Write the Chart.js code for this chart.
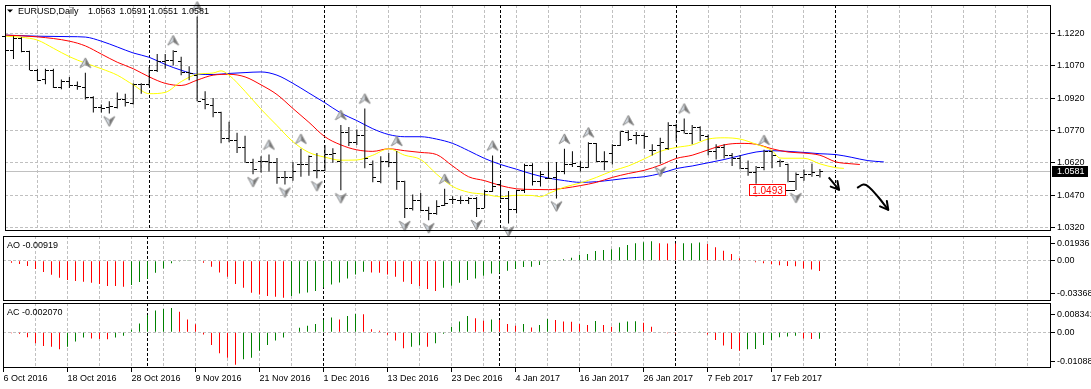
<!DOCTYPE html>
<html lang="en">
<head>
<meta charset="UTF-8">
<title>EURUSD,Daily</title>
<script src="https://cdn.jsdelivr.net/npm/chart.js@4.4.1/dist/chart.umd.min.js"></script>
<style>
  * { margin: 0; padding: 0; box-sizing: border-box; }
  body { width: 1091px; height: 389px; background: #fff; overflow: hidden; position: relative; }
  .pane { position: absolute; left: 0; width: 1091px; }
  #mainPane { top: 0; height: 236px; }
  #aoPane { top: 236px; height: 65px; }
  #acPane { top: 303px; height: 86px; }
</style>
</head>
<body>
<div class="pane" id="mainPane"><canvas id="mainChart"></canvas></div>
<div class="pane" id="aoPane"><canvas id="aoChart"></canvas></div>
<div class="pane" id="acPane"><canvas id="acChart"></canvas></div>

<script>
// ---- data (one daily bar per index, 0 = 6 Oct 2016) ----
const dateLabels = ['6 Oct 2016', '18 Oct 2016', '28 Oct 2016', '9 Nov 2016', '21 Nov 2016', '1 Dec 2016',
  '13 Dec 2016', '23 Dec 2016', '4 Jan 2017', '16 Jan 2017', '26 Jan 2017', '7 Feb 2017', '17 Feb 2017'];
const monthStarts = [18, 40, 62, 84, 104];

const opens = [1.1208, 1.1146, 1.1200, 1.1137, 1.1053, 1.1007, 1.1053, 1.0970, 1.1000, 1.0982,
  1.0974, 1.0926, 1.0879, 1.0881, 1.0881, 1.0914, 1.0899, 1.0987, 1.0985, 1.1053,
  1.1095, 1.1098, 1.1095, 1.1042, 1.1030, 1.0914, 1.0887, 1.0854, 1.0733, 1.0725,
  1.0691, 1.0624, 1.0627, 1.0627, 1.0624, 1.0552, 1.0552, 1.0612, 1.0612, 1.0585,
  1.0585, 1.0661, 1.0627, 1.0763, 1.0718, 1.0751, 1.0615, 1.0533, 1.0627, 1.0624,
  1.0534, 1.0409, 1.0446, 1.0401, 1.0386, 1.0424, 1.0451, 1.0449, 1.0449, 1.0454,
  1.0409, 1.0489, 1.0522, 1.0454, 1.0404, 1.0492, 1.0609, 1.0534, 1.0549, 1.0552,
  1.0582, 1.0612, 1.0606, 1.0600, 1.0710, 1.0627, 1.0665, 1.0703, 1.0763, 1.0748,
  1.0748, 1.0680, 1.0703, 1.0688, 1.0796, 1.0771, 1.0760, 1.0786, 1.0745, 1.0676,
  1.0695, 1.0658, 1.0642, 1.0594, 1.0575, 1.0600, 1.0673, 1.0630, 1.0612, 1.0534,
  1.0555, 1.0567, 1.0563];
const highs = [1.1213, 1.1208, 1.1203, 1.1140, 1.1057, 1.1057, 1.1057, 1.1007, 1.1019, 1.0997,
  1.1038, 1.0929, 1.0891, 1.0906, 1.0947, 1.0941, 1.0989, 1.0989, 1.1065, 1.1125,
  1.1125, 1.1143, 1.1113, 1.1068, 1.1300, 1.0952, 1.0921, 1.0857, 1.0811, 1.0759,
  1.0745, 1.0639, 1.0650, 1.0658, 1.0642, 1.0582, 1.0624, 1.0685, 1.0654, 1.0665,
  1.0703, 1.0688, 1.0796, 1.0786, 1.0775, 1.0872, 1.0630, 1.0650, 1.0665, 1.0675,
  1.0537, 1.0473, 1.0479, 1.0416, 1.0446, 1.0499, 1.0465, 1.0465, 1.0461, 1.0461,
  1.0495, 1.0654, 1.0539, 1.0489, 1.0495, 1.0615, 1.0618, 1.0582, 1.0624, 1.0624,
  1.0685, 1.0673, 1.0627, 1.0715, 1.0712, 1.0673, 1.0706, 1.0766, 1.0771, 1.0763,
  1.0760, 1.0706, 1.0736, 1.0808, 1.0801, 1.0826, 1.0796, 1.0790, 1.0751, 1.0706,
  1.0706, 1.0665, 1.0655, 1.0630, 1.0605, 1.0680, 1.0676, 1.0635, 1.0615, 1.0575,
  1.0589, 1.0617, 1.0591];
const lows = [1.1143, 1.1102, 1.1133, 1.1050, 1.1000, 1.0985, 1.0967, 1.0962, 1.0967, 1.0959,
  1.0914, 1.0854, 1.0854, 1.0849, 1.0872, 1.0881, 1.0891, 1.0941, 1.0976, 1.1042,
  1.1057, 1.1072, 1.1027, 1.1003, 1.0906, 1.0869, 1.0831, 1.0711, 1.0715, 1.0665,
  1.0620, 1.0567, 1.0575, 1.0579, 1.0522, 1.0519, 1.0537, 1.0555, 1.0560, 1.0548,
  1.0582, 1.0620, 1.0492, 1.0698, 1.0703, 1.0594, 1.0529, 1.0525, 1.0600, 1.0495,
  1.0363, 1.0398, 1.0396, 1.0353, 1.0379, 1.0419, 1.0428, 1.0428, 1.0428, 1.0368,
  1.0409, 1.0484, 1.0449, 1.0338, 1.0386, 1.0480, 1.0514, 1.0510, 1.0545, 1.0454,
  1.0567, 1.0600, 1.0579, 1.0597, 1.0624, 1.0585, 1.0612, 1.0698, 1.0721, 1.0706,
  1.0685, 1.0654, 1.0615, 1.0680, 1.0721, 1.0756, 1.0706, 1.0721, 1.0655, 1.0635,
  1.0640, 1.0605, 1.0590, 1.0560, 1.0522, 1.0585, 1.0594, 1.0600, 1.0529, 1.0493,
  1.0537, 1.0555, 1.0551];
const closes = [1.1146, 1.1200, 1.1137, 1.1053, 1.1004, 1.1053, 1.0970, 1.1000, 1.0982, 1.0977,
  1.0926, 1.0881, 1.0876, 1.0884, 1.0914, 1.0902, 1.0987, 1.0985, 1.1052, 1.1095,
  1.1098, 1.1137, 1.1042, 1.1038, 1.0909, 1.0891, 1.0854, 1.0736, 1.0725, 1.0691,
  1.0624, 1.0590, 1.0627, 1.0624, 1.0552, 1.0552, 1.0582, 1.0612, 1.0650, 1.0585,
  1.0661, 1.0666, 1.0763, 1.0718, 1.0748, 1.0642, 1.0555, 1.0627, 1.0624, 1.0534,
  1.0409, 1.0449, 1.0401, 1.0386, 1.0419, 1.0431, 1.0451, 1.0449, 1.0454, 1.0409,
  1.0489, 1.0514, 1.0454, 1.0404, 1.0492, 1.0609, 1.0534, 1.0570, 1.0549, 1.0582,
  1.0612, 1.0618, 1.0600, 1.0713, 1.0627, 1.0627, 1.0703, 1.0766, 1.0730, 1.0748,
  1.0745, 1.0680, 1.0718, 1.0796, 1.0766, 1.0760, 1.0786, 1.0748, 1.0676, 1.0695,
  1.0658, 1.0642, 1.0594, 1.0575, 1.0600, 1.0673, 1.0655, 1.0627, 1.0534, 1.0570,
  1.0567, 1.0579, 1.0581];

// alligator lines (they run past the last bar because of their shift)
const jawX = [0, 4, 8, 10, 12, 14, 16, 18, 20, 22, 24, 26, 28, 30, 32, 34, 36, 38, 40, 42, 44, 46, 48, 50, 52, 54,
  56, 58, 60, 62, 64, 66, 68, 70, 72, 74, 76, 78, 80, 82, 84, 86, 88, 90, 92, 94, 96, 98, 100, 102, 104, 106, 108, 110];
const jawY = [1.1213, 1.1208, 1.1206, 1.1204, 1.1185, 1.1158, 1.1130, 1.1110, 1.1077, 1.1050, 1.1031, 1.1030, 1.1035,
  1.1039, 1.1042, 1.1027, 1.0989, 1.0944, 1.0899, 1.0851, 1.0816, 1.0778, 1.0751, 1.0741, 1.0741, 1.0730, 1.0710,
  1.0676, 1.0640, 1.0612, 1.0590, 1.0567, 1.0549, 1.0537, 1.0529, 1.0532, 1.0540, 1.0549, 1.0555, 1.0570, 1.0593,
  1.0605, 1.0620, 1.0635, 1.0653, 1.0670, 1.0676, 1.0673, 1.0668, 1.0662, 1.0658, 1.0645, 1.0630, 1.0624];
const teethX = [0, 4, 8, 10, 12, 14, 16, 18, 20, 22, 24, 26, 28, 30, 32, 34, 36, 38, 40, 42, 44, 46, 48, 50, 52, 54,
  56, 58, 60, 62, 64, 66, 68, 70, 72, 74, 76, 78, 80, 82, 84, 86, 88, 90, 92, 94, 96, 98, 100, 102, 104, 106, 107];
const teethY = [1.1213, 1.1205, 1.1185, 1.1163, 1.1125, 1.1087, 1.1057, 1.1019, 1.0989, 1.0979, 1.1004, 1.1027, 1.1031,
  1.1019, 1.0982, 1.0937, 1.0872, 1.0808, 1.0741, 1.0703, 1.0680, 1.0673, 1.0685, 1.0676, 1.0668, 1.0658, 1.0605,
  1.0555, 1.0537, 1.0514, 1.0499, 1.0496, 1.0495, 1.0502, 1.0514, 1.0529, 1.0552, 1.0570, 1.0585, 1.0609, 1.0640,
  1.0655, 1.0680, 1.0703, 1.0710, 1.0706, 1.0685, 1.0670, 1.0665, 1.0655, 1.0624, 1.0615, 1.0612];
const lipsX = [0, 2, 4, 6, 8, 10, 12, 14, 16, 18, 20, 22, 24, 26, 27, 28, 30, 32, 34, 36, 38, 40, 42, 44, 46, 48, 50,
  52, 54, 56, 58, 60, 62, 64, 66, 67, 68, 70, 72, 74, 76, 78, 80, 82, 84, 86, 88, 90, 92, 94, 96, 97, 98, 100, 102, 104, 105];
const lipsY = [1.1208, 1.1203, 1.1190, 1.1152, 1.1113, 1.1083, 1.1057, 1.1027, 1.0982, 1.0941, 1.0947, 1.0997, 1.1031,
  1.1037, 1.1047, 1.1027, 1.0952, 1.0869, 1.0793, 1.0718, 1.0668, 1.0646, 1.0632, 1.0633, 1.0655, 1.0685, 1.0655,
  1.0635, 1.0567, 1.0510, 1.0483, 1.0474, 1.0462, 1.0469, 1.0468, 1.0462, 1.0477, 1.0507, 1.0526, 1.0552, 1.0582,
  1.0605, 1.0638, 1.0673, 1.0691, 1.0703, 1.0730, 1.0736, 1.0730, 1.0706, 1.0676, 1.0642, 1.0641, 1.0641, 1.0615,
  1.0597, 1.0594];

const fracUp = [10, 21, 24, 33, 37, 42, 45, 49, 55, 61, 70, 73, 78, 85, 95];
const fracDown = [13, 31, 35, 39, 42, 50, 53, 59, 63, 69, 82, 94, 99];
const lowMarkIdx = 99;

// hand-drawn arrows (bar index, price)
const arrow1X = [103.1, 104.4];
const arrow1Y = [1.0552, 1.0494];
const arrow2X = [106.65, 107.44, 108.06, 109.3, 110.56];
const arrow2Y = [1.0503, 1.0519, 1.0510, 1.0461, 1.0401];

const ao = [-0.0018, -0.0018, -0.0030, -0.0048, -0.0075, -0.0102, -0.0126, -0.0153, -0.0174, -0.0183,
  -0.0189, -0.0198, -0.0210, -0.0228, -0.0228, -0.0234, -0.0219, -0.0192, -0.0162, -0.0108,
  -0.0069, -0.0024, -0.0003, 0.0001, 0.0000, -0.0018, -0.0054, -0.0105, -0.0144, -0.0210,
  -0.0243, -0.0288, -0.0303, -0.0318, -0.0324, -0.0333, -0.0318, -0.0294, -0.0285, -0.0273,
  -0.0240, -0.0213, -0.0195, -0.0159, -0.0123, -0.0099, -0.0105, -0.0108, -0.0123, -0.0144,
  -0.0189, -0.0210, -0.0228, -0.0255, -0.0273, -0.0243, -0.0225, -0.0198, -0.0174, -0.0159,
  -0.0135, -0.0114, -0.0108, -0.0090, -0.0075, -0.0057, -0.0054, -0.0039, -0.0003, 0.0001,
  0.0012, 0.0027, 0.0054, 0.0060, 0.0087, 0.0096, 0.0102, 0.0120, 0.0141, 0.0156,
  0.0165, 0.0174, 0.0156, 0.0155, 0.0154, 0.0156, 0.0158, 0.0163, 0.0150, 0.0120,
  0.0090, 0.0060, 0.0021, 0.0003, -0.0015, -0.0024, -0.0033, -0.0042, -0.0048, -0.0049,
  -0.0069, -0.0078, -0.00919];
const ac = [-0.0003, -0.0003, -0.0005, -0.0016, -0.0036, -0.0045, -0.0047, -0.0055, -0.0047, -0.0030,
  -0.0017, -0.0020, -0.0022, -0.0023, -0.0017, -0.0011, 0.0008, 0.0029, 0.0056, 0.0071,
  0.0076, 0.0079, 0.0067, 0.0042, 0.0026, -0.0007, -0.0041, -0.0068, -0.0083, -0.0106,
  -0.0088, -0.0083, -0.0060, -0.0041, -0.0027, -0.0017, 0.0000, 0.0015, 0.0021, 0.0027,
  0.0040, 0.0048, 0.0042, 0.0053, 0.0060, 0.0059, 0.0010, 0.0005, -0.0008, -0.0027,
  -0.0052, -0.0047, -0.0041, -0.0047, -0.0036, -0.0005, 0.0018, 0.0035, 0.0053, 0.0046,
  0.0038, 0.0042, 0.0040, 0.0027, 0.0021, 0.0027, 0.0016, 0.0024, 0.0043, 0.0040,
  0.0035, 0.0034, 0.0027, 0.0024, 0.0037, 0.0024, 0.0018, 0.0031, 0.0035, 0.0036,
  0.0031, 0.0018, 0.0002, -0.0003, -0.0004, 0.0000, 0.0002, 0.0003, -0.0007, -0.0025,
  -0.0043, -0.0054, -0.0060, -0.0055, -0.0054, -0.0041, -0.0025, -0.0016, -0.0014, -0.0011,
  -0.0020, -0.0022, -0.00207];

const priceTicks = [1.0320, 1.0470, 1.0620, 1.0770, 1.0920, 1.1070, 1.1220];
const aoTickText = ['0.01936', '0.00', '-0.03368'];
const aoTickAt = [0.0157, 0, -0.0293];   // MT4 keeps the edge labels inside the pane
const acTickText = ['0.008341', '0.00', '-0.01088'];
const acTickAt = [0.00587, 0, -0.00958];

// ---- helpers ----
const FONT = '"Liberation Sans", Arial, sans-serif';
const last = closes.length - 1;
const xMin = -0.0625, xMax = 130.9375;     // 8 px per bar
const gridIdx = [];
for (let i = 0; i <= 128; i += 4) gridIdx.push(i);
const xy = (xs, ys) => xs.map((v, i) => ({ x: v, y: ys[i] }));
const histColors = vals => vals.map((v, i) => (i > 0 && v > vals[i - 1]) ? '#008000' : '#ff0000');

function fractalImage(up) {
  const c = document.createElement('canvas');
  c.width = 13; c.height = 40;
  const g = c.getContext('2d');
  const cy = up ? 10 : 28;
  const s = up ? 1 : -1;
  const tip = [6.5, cy - 5 * s], notch = [6.5, cy + 1.5 * s];
  const l = [1, cy + 5 * s], r = [12, cy + 5 * s];
  g.fillStyle = '#d3dbe3';
  g.beginPath(); g.moveTo(...tip); g.lineTo(...l); g.lineTo(...notch); g.closePath(); g.fill();
  g.fillStyle = '#777';
  g.beginPath(); g.moveTo(...tip); g.lineTo(...notch); g.lineTo(...r); g.closePath(); g.fill();
  g.strokeStyle = '#8a8a8a'; g.lineWidth = 1;
  g.beginPath(); g.moveTo(...tip); g.lineTo(...l); g.lineTo(...notch); g.lineTo(...r); g.closePath(); g.stroke();
  return c;
}

// month separators + pane frame, shared by all three panes
const paneFrame = {
  id: 'paneFrame',
  beforeDatasetsDraw(chart) {
    const { ctx, chartArea: a, scales: { x } } = chart;
    ctx.save();
    ctx.strokeStyle = '#000'; ctx.lineWidth = 1; ctx.setLineDash([3, 2]);
    monthStarts.forEach(i => {
      const px = Math.floor(x.getPixelForValue(i)) + 0.5;
      ctx.beginPath(); ctx.moveTo(px, a.top); ctx.lineTo(px, a.bottom); ctx.stroke();
    });
    ctx.restore();
  },
  afterDraw(chart, args, opts) {
    const { ctx, chartArea: a } = chart;
    ctx.save();
    ctx.strokeStyle = '#000'; ctx.lineWidth = 1;
    ctx.strokeRect(a.left + 0.5, a.top + 0.5, a.width - 1, a.height - 1);
    if (opts.text) {
      ctx.font = '9px ' + FONT; ctx.fillStyle = '#000'; ctx.textBaseline = 'middle';
      ctx.fillText(opts.text, 7, a.top + 9.5);
    }
    ctx.restore();
  }
};

// bar ticks, price line, labels, arrow heads on the main pane
const priceMarks = {
  id: 'priceMarks',
  beforeDatasetsDraw(chart) {
    const { ctx, chartArea: a, scales: { y } } = chart;
    const py = Math.round(y.getPixelForValue(closes[last])) + 0.5;
    ctx.save();
    ctx.strokeStyle = '#c0c0c0'; ctx.lineWidth = 1;
    ctx.beginPath(); ctx.moveTo(a.left, py); ctx.lineTo(a.right, py); ctx.stroke();
    ctx.restore();
  },
  afterDatasetsDraw(chart) {
    const { ctx, scales: { x, y } } = chart;
    ctx.save();
    ctx.strokeStyle = '#000'; ctx.lineWidth = 1;
    ctx.beginPath();
    opens.forEach((o, i) => {
      const px = Math.floor(x.getPixelForValue(i));
      const yo = Math.round(y.getPixelForValue(o)) + 0.5;
      const yc = Math.round(y.getPixelForValue(closes[i])) + 0.5;
      ctx.moveTo(px - 3, yo); ctx.lineTo(px, yo);
      ctx.moveTo(px + 1, yc); ctx.lineTo(px + 4, yc);
    });
    ctx.stroke();

    // arrow heads of the hand drawn strokes
    [[arrow1X, arrow1Y], [arrow2X, arrow2Y]].forEach(([xs, ys]) => {
      const n = xs.length - 1;
      const x1 = x.getPixelForValue(xs[n]), y1 = y.getPixelForValue(ys[n]);
      const x0 = x.getPixelForValue(xs[n - 1]), y0 = y.getPixelForValue(ys[n - 1]);
      const ang = Math.atan2(y0 - y1, x0 - x1);
      ctx.lineWidth = 2; ctx.lineCap = 'round';
      ctx.beginPath();
      [-0.5, 0.5].forEach(d => {
        ctx.moveTo(x1, y1);
        ctx.lineTo(x1 + 9 * Math.cos(ang + d), y1 + 9 * Math.sin(ang + d));
      });
      ctx.stroke();
    });

    // low price label
    const bx = Math.floor(x.getPixelForValue(lowMarkIdx));
    const by = Math.round(y.getPixelForValue(lows[lowMarkIdx])) + 0.5;
    ctx.lineWidth = 1; ctx.lineCap = 'butt';
    ctx.strokeStyle = '#000';
    ctx.beginPath(); ctx.moveTo(bx - 9, by); ctx.lineTo(bx, by); ctx.stroke();
    const w = 37, h = 12, left = bx - 9 - w;
    ctx.fillStyle = '#fff'; ctx.fillRect(left, by - 6.5, w, h);
    ctx.strokeStyle = '#ff0000'; ctx.strokeRect(left + 0.5, by - 6, w - 1, h - 1);
    ctx.fillStyle = '#ff0000'; ctx.font = '10px ' + FONT;
    ctx.textAlign = 'center'; ctx.textBaseline = 'middle';
    ctx.fillText(lows[lowMarkIdx].toFixed(4), left + w / 2, by + 0.5);
    ctx.restore();
  },
  afterDraw(chart) {
    const { ctx, scales: { y } } = chart;
    ctx.save();
    // current price tag
    const py = Math.round(y.getPixelForValue(closes[last]));
    ctx.fillStyle = '#000'; ctx.fillRect(1052, py - 5, 36, 11);
    ctx.fillStyle = '#fff'; ctx.font = '9px ' + FONT; ctx.textBaseline = 'middle';
    ctx.fillText(closes[last].toFixed(4), 1057, py + 0.5);
    // header
    ctx.fillStyle = '#000';
    ctx.beginPath(); ctx.moveTo(7, 9.5); ctx.lineTo(13, 9.5); ctx.lineTo(10, 12.5); ctx.closePath(); ctx.fill();
    ctx.fillText('EURUSD,Daily', 18, 11.5);
    [opens[last], highs[last], lows[last], closes[last]].forEach((v, k) => {
      ctx.fillText(v.toFixed(4), 88 + k * 31.2, 11.5);
    });
    ctx.restore();
  }
};

Chart.defaults.font.family = FONT;
Chart.defaults.font.size = 9;
Chart.defaults.color = '#000';

const xScale = (withDates) => ({
  type: 'linear', min: xMin, max: xMax, offset: false,
  afterBuildTicks: s => { s.ticks = gridIdx.map(v => ({ value: v })); },
  afterFit: s => { s.height = withDates ? 21 : 0; s.paddingLeft = 0; s.paddingRight = 0; },
  ticks: {
    display: withDates, autoSkip: false, maxRotation: 0, align: 'start', padding: 1,
    callback: v => (v % 8 === 0 && dateLabels[v / 8]) ? dateLabels[v / 8] : ''
  },
  grid: {
    offset: false, color: '#c0c0c0', drawTicks: withDates, tickLength: 4, tickBorderDash: [],
    tickColor: c => (c.tick && c.tick.value % 8 === 0 && dateLabels[c.tick.value / 8]) ? '#000' : 'rgba(0,0,0,0)'
  },
  border: { display: false, dash: [3, 2] }
});

const yFit = s => { s.width = 40; s.paddingTop = 0; s.paddingBottom = 0; };

// ---- main pane ----
new Chart(document.getElementById('mainChart'), {
  type: 'line',
  data: {
    datasets: [
      { data: xy(jawX, jawY), borderColor: '#0000ff', borderWidth: 1, pointRadius: 0, cubicInterpolationMode: 'monotone', order: 5 },
      { data: xy(teethX, teethY), borderColor: '#ff0000', borderWidth: 1, pointRadius: 0, cubicInterpolationMode: 'monotone', order: 4 },
      { data: xy(lipsX, lipsY), borderColor: '#ffff00', borderWidth: 1, pointRadius: 0, cubicInterpolationMode: 'monotone', order: 3 },
      { type: 'bar', data: lows.map((l, i) => ({ x: i, y: [l, highs[i]] })), backgroundColor: '#000',
        barThickness: 1, borderWidth: 0, inflateAmount: 0, order: 2 },
      { type: 'scatter', data: fracUp.map(i => ({ x: i, y: highs[i] })), pointStyle: fractalImage(true), pointRadius: 3, clip: false, order: 1 },
      { type: 'scatter', data: fracDown.map(i => ({ x: i, y: lows[i] })), pointStyle: fractalImage(false), pointRadius: 3, clip: false, order: 1 },
      { data: xy(arrow1X, arrow1Y), borderColor: '#000', borderWidth: 2, pointRadius: 0, tension: 0.3, order: 0 },
      { data: xy(arrow2X, arrow2Y), borderColor: '#000', borderWidth: 2, pointRadius: 0, tension: 0.4, order: 0 }
    ]
  },
  options: {
    responsive: true, maintainAspectRatio: false, animation: false,
    layout: { padding: { left: 3, top: 3, right: 0, bottom: 1 } },
    plugins: { legend: { display: false }, tooltip: { enabled: false }, paneFrame: {} },
    scales: {
      x: xScale(false),
      y: {
        position: 'right', min: 1.0303, max: 1.1353,
        afterBuildTicks: s => { s.ticks = priceTicks.map(v => ({ value: v })); },
        afterFit: yFit,
        ticks: { padding: 2, callback: v => v.toFixed(4) },
        grid: { color: '#c0c0c0', tickLength: 4, tickColor: '#000', tickBorderDash: [] },
        border: { display: false, dash: [3, 2] }
      }
    }
  },
  plugins: [paneFrame, priceMarks]
});

// ---- oscillator panes ----
function oscChart(id, values, yMin, yMax, tickAt, tickText, label, withDates) {
  return new Chart(document.getElementById(id), {
    type: 'bar',
    data: {
      datasets: [{
        data: values.map((v, i) => ({ x: i, y: v })),
        backgroundColor: histColors(values),
        barThickness: 1, borderWidth: 0, inflateAmount: 0
      }]
    },
    options: {
      responsive: true, maintainAspectRatio: false, animation: false,
      layout: { padding: { left: 3, top: 0, right: 0, bottom: 0 } },
      plugins: { legend: { display: false }, tooltip: { enabled: false }, paneFrame: { text: label } },
      scales: {
        x: xScale(withDates),
        y: {
          position: 'right', min: yMin, max: yMax,
          afterBuildTicks: s => { s.ticks = tickAt.map(v => ({ value: v })); },
          afterFit: yFit,
          ticks: { padding: 2, callback: (v, i) => tickText[i] },
          grid: {
            color: c => (c.tick && c.tick.value === 0) ? '#c0c0c0' : 'rgba(0,0,0,0)',
            tickLength: 4, tickColor: '#000', tickBorderDash: []
          },
          border: { display: false, dash: [3, 2] }
        }
      }
    },
    plugins: [paneFrame]
  });
}

oscChart('aoChart', ao, -0.03623, 0.02221, aoTickAt, aoTickText, 'AO ' + ao[last].toFixed(5), false);
oscChart('acChart', ac, -0.01163, 0.00955, acTickAt, acTickText, 'AC ' + ac[last].toFixed(6), true);
</script>
</body>
</html>
